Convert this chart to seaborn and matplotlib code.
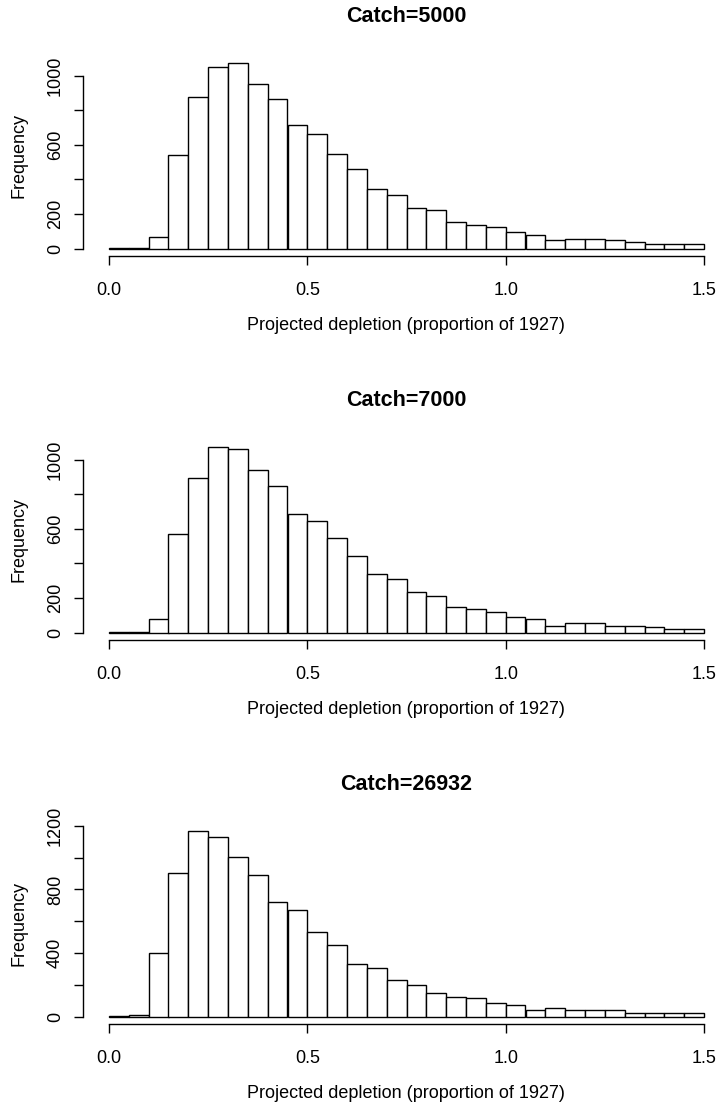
import numpy as np
import pandas as pd
import matplotlib
matplotlib.use('Agg')
import matplotlib.pyplot as plt
import seaborn as sns

# bins of width 0.05 from 0 to 1.5
bin_edges = [round(0.05 * k, 2) for k in range(31)]

counts_5000 = [3, 3, 65, 540, 879, 1052, 1071, 954, 867, 713,
               665, 548, 461, 346, 308, 233, 221, 156, 135, 125,
               96, 77, 50, 58, 58, 50, 38, 27, 27, 27]
counts_7000 = [2, 2, 81, 570, 896, 1071, 1061, 939, 850, 685,
               647, 549, 443, 340, 309, 234, 213, 146, 138, 117,
               88, 81, 40, 58, 58, 40, 40, 31, 21, 21]
counts_26932 = [2, 10, 399, 902, 1165, 1132, 1006, 891, 722, 668,
                534, 449, 334, 305, 232, 198, 146, 125, 115, 84,
                73, 42, 54, 42, 42, 42, 21, 21, 21, 21]

titles = ['Catch=5000', 'Catch=7000', 'Catch=26932']
ytick_vals = [[0, 200, 400, 600, 800, 1000],
              [0, 200, 400, 600, 800, 1000],
              [0, 200, 400, 600, 800, 1000, 1200]]
ytick_labs = [['0', '200', '', '600', '', '1000'],
              ['0', '200', '', '600', '', '1000'],
              ['0', '', '400', '', '800', '', '1200']]
xtick_vals = [0.0, 0.5, 1.0, 1.5]
xtick_labs = ['0.0', '0.5', '1.0', '1.5']
xlab = 'Projected depletion (proportion of 1927)'

sns.set_style('ticks')
plt.rcParams['font.family'] = ['Liberation Sans', 'DejaVu Sans']
plt.rcParams['text.color'] = 'black'

W, H = 719, 1111
fig = plt.figure(figsize=(W / 100, H / 100), dpi=100)

panels = [counts_5000, counts_7000, counts_26932]
bottoms = [256, 640, 1024]   # pixel rows of the x axis line
ax_h = 200
left_px = 83
x0_px, x15_px = 109, 704
pxu = (x15_px - x0_px) / 1.5
xlo = -(x0_px - left_px) / pxu
xhi = 1.5 + (W - x15_px) / pxu
centers = [(bin_edges[k] + bin_edges[k + 1]) / 2 for k in range(30)]

for i, counts in enumerate(panels):
    b = bottoms[i]
    ax = fig.add_axes([left_px / W, 1 - b / H, (W - left_px) / W, ax_h / H])
    df = pd.DataFrame({'depl': centers, 'n': counts})
    sns.histplot(data=df, x='depl', weights='n', bins=bin_edges, color='white',
                 edgecolor='black', linewidth=1.0, alpha=1, ax=ax)
    m = max(counts)
    ax.set_ylim(-0.04 * m, 1.04 * m)
    ax.set_xlim(xlo, xhi)
    ax.set_ylabel('')
    ax.set_xlabel('')
    for s in ['top', 'right']:
        ax.spines[s].set_visible(False)
    ax.spines['left'].set_bounds(ytick_vals[i][0], ytick_vals[i][-1])
    ax.spines['bottom'].set_bounds(0, 1.5)
    for s in ['left', 'bottom']:
        ax.spines[s].set_linewidth(1.0)
        ax.spines[s].set_color('black')
    ax.set_yticks(ytick_vals[i])
    ax.set_yticklabels(ytick_labs[i], rotation=90, va='center')
    ax.set_xticks(xtick_vals)
    ax.set_xticklabels(xtick_labs)
    ax.tick_params(axis='both', which='major', direction='out', length=6.8,
                   width=1.0, color='black', labelsize=13, labelcolor='black',
                   bottom=True, left=True)
    ax.tick_params(axis='y', pad=7)
    ax.tick_params(axis='x', pad=12)
    ax.grid(False)

    off = b - bottoms[0]
    fig.text(406 / W, 1 - (17 + off) / H, titles[i], ha='center', va='center',
             fontsize=15.5, fontweight='bold', color='black')
    fig.text(19 / W, 1 - (156 + off) / H, 'Frequency', rotation=90,
             ha='center', va='center', fontsize=13, color='black')
    fig.text(406 / W, 1 - (325 + off) / H, xlab, ha='center', va='center',
             fontsize=13, color='black')

fig.savefig('out.png', dpi=100, facecolor='white')
